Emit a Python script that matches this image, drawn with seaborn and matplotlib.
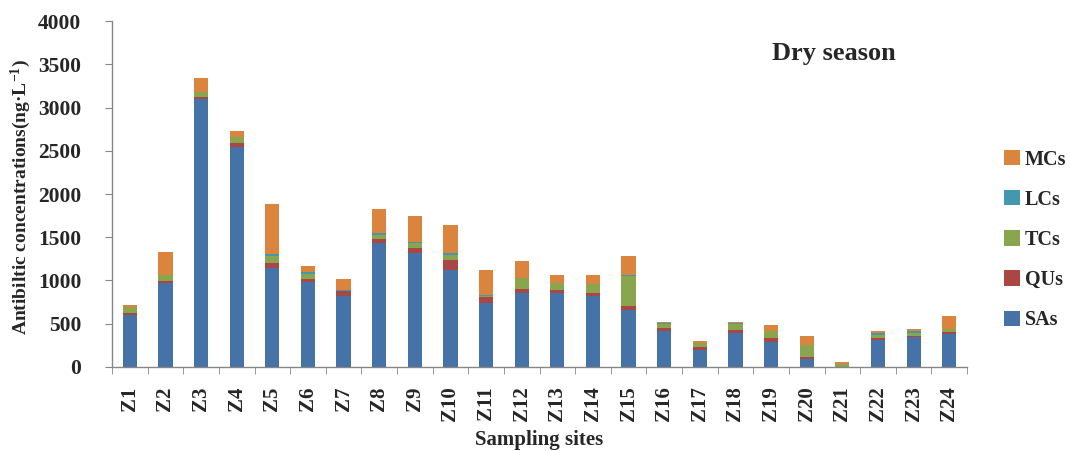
import numpy as np
import pandas as pd
import matplotlib
matplotlib.use("Agg")
import matplotlib.pyplot as plt
import seaborn as sns
from matplotlib.patches import Patch
from matplotlib.ticker import MultipleLocator, FixedLocator

# Antibiotic concentrations per sampling site (ng/L), dry season
sites = [f"Z{i}" for i in range(1, 25)]
sas = [598, 967, 3095, 2547, 1141, 979, 819, 1430, 1322, 1125, 736, 859,
       859, 821, 659, 416, 193, 393, 293, 96, 0, 316, 343, 378]
qus = [22, 31, 23, 46, 61, 42, 62, 53, 57, 116, 77, 39,
       35, 38, 42, 39, 38, 35, 46, 23, 4, 19, 15, 23]
tcs = [75, 60, 58, 66, 81, 58, 3, 39, 54, 57, 8, 127,
       73, 97, 355, 46, 43, 73, 77, 135, 32, 39, 39, 35]
lcs = [3, 5, 5, 4, 23, 16, 1, 23, 16, 24, 8, 3,
       3, 3, 4, 3, 3, 3, 3, 3, 2, 19, 15, 8]
mcs = [22, 265, 155, 68, 582, 69, 137, 282, 297, 323, 292, 197,
       93, 105, 223, 16, 20, 16, 63, 101, 18, 23, 24, 142]

groups = ["SAs", "QUs", "TCs", "LCs", "MCs"]
colors = {"SAs": "#4572A7", "QUs": "#AA4643", "TCs": "#89A54E",
          "LCs": "#4198AF", "MCs": "#DB843D"}

df = pd.DataFrame({"site": sites, "SAs": sas, "QUs": qus, "TCs": tcs,
                   "LCs": lcs, "MCs": mcs})
cum = df[groups].cumsum(axis=1)

sns.set_style("white")
plt.rcParams["font.family"] = ["Liberation Serif", "DejaVu Serif"]
plt.rcParams["font.weight"] = "bold"
plt.rcParams["mathtext.fontset"] = "custom"
plt.rcParams["mathtext.rm"] = "Liberation Serif:bold"
plt.rcParams["mathtext.it"] = "Liberation Serif:bold"
plt.rcParams["mathtext.bf"] = "Liberation Serif:bold"

fig = plt.figure(figsize=(10.7, 4.51), dpi=100)
ax = fig.add_axes([0.1047, 0.1863, 0.7991, 0.767])

# stacked bars: draw cumulative totals from the top group downwards
for g in reversed(groups):
    sns.barplot(x=df["site"], y=cum[g], color=colors[g], width=0.4,
                ax=ax, saturation=1, edgecolor="none", linewidth=0)

ax.set_xlim(-0.5, len(sites) - 0.5)
ax.set_ylim(0, 4000)
ax.yaxis.set_major_locator(MultipleLocator(500))

spine_c = "#868686"
for s in ["top", "right"]:
    ax.spines[s].set_visible(False)
for s in ["left", "bottom"]:
    ax.spines[s].set_color(spine_c)
    ax.spines[s].set_linewidth(1.0)

ax.tick_params(axis="y", which="major", direction="out", length=5,
               color=spine_c, labelsize=15.5, pad=17, left=True)
ax.tick_params(axis="x", which="major", length=0, labelsize=15,
               pad=14, rotation=90)
ax.xaxis.set_minor_locator(FixedLocator(np.arange(-0.5, len(sites), 1.0)))
ax.tick_params(axis="x", which="minor", direction="out", length=5,
               color=spine_c, bottom=True)
for lab in ax.get_xticklabels() + ax.get_yticklabels():
    lab.set_fontweight("bold")

ax.set_xlabel("Sampling sites", fontsize=15, fontweight="bold")
ax.xaxis.set_label_coords(0.5, -0.182)
ax.set_ylabel(r"Antibiltic concentrations(ng·L$^{-1}$)", fontsize=14,
              fontweight="bold")
ax.yaxis.set_label_coords(-0.093, 0.49)

fig.text(0.779, 0.882, "Dry season", ha="center", va="center",
         fontsize=19, fontweight="bold")

handles = [Patch(facecolor=colors[g], edgecolor="none", label=g)
           for g in reversed(groups)]
fig.legend(handles=handles, loc="center left",
           bbox_to_anchor=(0.925, 0.468), frameon=False,
           prop={"size": 14.5, "weight": "bold"}, handlelength=0.8,
           handleheight=0.8, handletextpad=0.25, labelspacing=1.0,
           borderaxespad=0.3)

fig.savefig("out.png", dpi=100)
